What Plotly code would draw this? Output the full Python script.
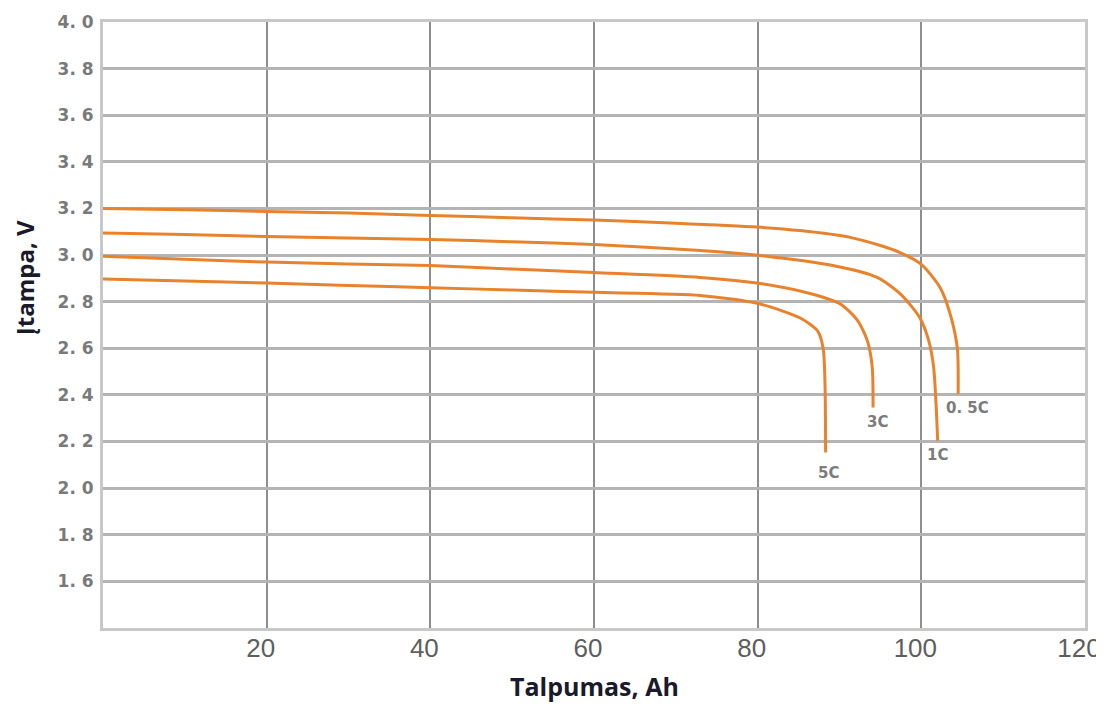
import plotly.graph_objects as go

# Capacity (Ah) and voltage (V)
cap_05c = [0, 10, 20, 30, 40, 50, 60, 70, 80, 85.2, 91.3, 95.0, 97.4, 100.0, 102.3, 103.5, 104.4, 104.5]
volt_05c = [3.20, 3.195, 3.187, 3.18, 3.17, 3.16, 3.15, 3.137, 3.12, 3.105, 3.076, 3.041, 3.011, 2.96, 2.86, 2.75, 2.60, 2.405]

cap_1c = [0, 10, 20, 30, 40, 50, 60, 73, 80.3, 89.2, 94.6, 97.4, 99.8, 100.9, 101.5, 102.0]
volt_1c = [3.095, 3.088, 3.08, 3.073, 3.067, 3.057, 3.045, 3.02, 2.998, 2.955, 2.904, 2.835, 2.732, 2.633, 2.52, 2.204]

cap_3c = [0, 10, 20, 30, 40, 50, 60, 73, 80.3, 86.4, 90.1, 92.2, 93.4, 94.0, 94.1]
volt_3c = [2.995, 2.982, 2.97, 2.962, 2.955, 2.94, 2.925, 2.904, 2.878, 2.835, 2.79, 2.72, 2.633, 2.52, 2.346]

cap_5c = [0, 10, 20, 30, 40, 50, 60, 73, 80.3, 85.2, 87.3, 88.0, 88.3]
volt_5c = [2.897, 2.889, 2.88, 2.87, 2.86, 2.85, 2.84, 2.827, 2.79, 2.73, 2.676, 2.60, 2.153]

series_names = ["0. 5C", "1C", "3C", "5C"]
label_pos = [(105.6, 2.346), (102.0, 2.144), (94.6, 2.282), (88.6, 2.063)]

y_ticks = [1.6, 1.8, 2.0, 2.2, 2.4, 2.6, 2.8, 3.0, 3.2, 3.4, 3.6, 3.8, 4.0]
y_tick_text = ["1. 6", "1. 8", "2. 0", "2. 2", "2. 4", "2. 6", "2. 8", "3. 0", "3. 2", "3. 4", "3. 6", "3. 8", "4. 0"]
x_ticks = [20, 40, 60, 80, 100, 120]
x_tick_text = ["20", "40", "60", "80", "100", "120"]

x_title = "Talpumas, Ah"
y_title = "Įtampa, V"

orange = "#E8822C"

fig = go.Figure()
for xs, ys, name in zip([cap_05c, cap_1c, cap_3c, cap_5c],
                        [volt_05c, volt_1c, volt_3c, volt_5c], series_names):
    fig.add_trace(go.Scatter(x=xs, y=ys, mode="lines", name=name,
                             line=dict(color=orange, width=3, shape="spline", smoothing=0.7),
                             showlegend=False))

for name, (lx, ly) in zip(series_names, label_pos):
    fig.add_annotation(x=lx, y=ly, text="<b>" + name + "</b>", showarrow=False,
                       font=dict(family="DejaVu Sans", size=15, color="#7c7c7c"))

# axis titles placed as annotations
fig.add_annotation(xref="paper", yref="paper", x=0.500, y=-0.096, yanchor="middle",
                   text="<b>" + x_title + "</b>", showarrow=False,
                   font=dict(family="Open Sans", size=25, color="#1a1a2a"))
fig.add_annotation(xref="paper", yref="paper", x=-0.080, y=0.578, xanchor="center",
                   text="<b>" + y_title + "</b>", showarrow=False, textangle=-90,
                   font=dict(family="Open Sans", size=24, color="#1a1a2a"))

# the page body has an 8px margin, so the figure is 8px smaller and margins shifted
fig.update_layout(
    width=1096, height=696,
    margin=dict(l=95, r=19, t=14, b=76),
    paper_bgcolor="white", plot_bgcolor="white",
    xaxis=dict(range=[0, 120], tickvals=x_ticks, ticktext=x_tick_text, automargin=False,
               showgrid=True, gridcolor="#8e8e8e", gridwidth=1.8,
               zeroline=False, showline=True, linecolor="#c8c8c8", linewidth=3, mirror=True,
               ticks="", ticklabelshift=-6, ticklabelstandoff=-5,
               tickfont=dict(family="Liberation Sans", size=26, color="#5e5e5e")),
    yaxis=dict(range=[1.4, 4.0], tickvals=y_ticks, ticktext=y_tick_text, automargin=False,
               showgrid=True, gridcolor="#b4b4b4", gridwidth=3,
               zeroline=False, showline=True, linecolor="#c8c8c8", linewidth=3, mirror=True,
               ticks="outside", ticklen=3, tickcolor="rgba(0,0,0,0)",
               tickfont=dict(family="DejaVu Sans", size=17, color="#7a7a7a", weight="bold")),
)

fig.write_html("out.html")
